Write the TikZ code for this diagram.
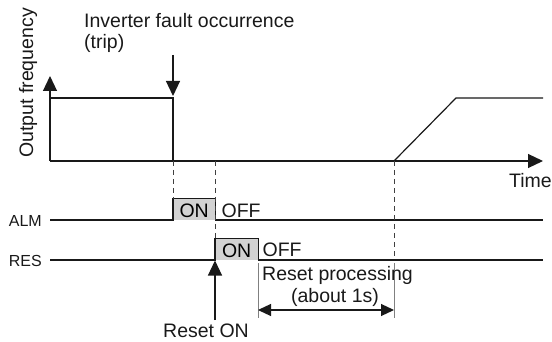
\documentclass[tikz,border=0pt]{standalone}
\usepackage{fontspec}
\setmainfont{Liberation Sans}
\usetikzlibrary{arrows.meta, positioning}

\begin{document}
\begin{tikzpicture}[
    x=1pt, y=-1pt,
    txt/.style={font=\fontsize{19.5}{22}\selectfont, inner sep=0pt, text=black!90},
    sig/.style={font=\fontsize{16}{18}\selectfont, inner sep=0pt, text=black!90},
    wave/.style={line width=1.2pt, black!90},
    guide/.style={black!75, line width=0.7pt, dash pattern=on 5pt off 4pt},
    spanline/.style={black!50, line width=0.9pt},
    onbox/.style={
      rectangle, fill=gray!35, inner sep=0pt, minimum height=21pt,
      text height=17pt, text depth=0pt, anchor=south west,
      font=\fontsize{19.5}{22}\selectfont
    },
    arr/.style={-{Triangle[width=14pt,length=15pt]}, line width=1.2pt, black!90},
    darr/.style={{Triangle[width=12pt,length=13pt]}-{Triangle[width=12pt,length=13pt]},
      line width=1.2pt, black!90}
  ]

  \useasboundingbox (0,0) rectangle (552,342);

  % Axes
  \coordinate (o)    at (50,161);
  \coordinate (ytop) at (50,76);
  \coordinate (xend) at (543,161);
  \draw[arr] (o) -- (ytop);
  \draw[arr] (o) -- (xend);
  \node[txt, rotate=90, anchor=base west] (ylab) at (33,158) {Output frequency};
  \node[txt, anchor=base east] (time) at (552,188) {Time};

  % Output frequency: run, trip, restart
  \coordinate (f0)      at (50,98);
  \coordinate (trip)    at (173,98);
  \coordinate (tripbot) at (173,161);
  \coordinate (restart) at (394,161);
  \coordinate (ftop)    at (456,98);
  \coordinate (fend)    at (543,98);
  \draw[wave] (f0) -- (trip) -- (tripbot);
  \draw[wave] (restart) -- (ftop) -- (fend);

  % Fault label and arrow
  \node[txt, anchor=base west] (fault) at (84,28) {Inverter fault occurrence};
  \node[txt, anchor=base west] (tripl) at (84,49) {(trip)};
  \coordinate (tripin) at (173,55);
  \draw[arr, shorten >=2pt] (tripin) -- (trip);

  % ALM signal
  \node[sig, anchor=east] (alm) at (42,220.5) {ALM};
  \coordinate (alm0) at (50,220);
  \coordinate (alm1) at (543,220);
  \node[onbox, minimum width=42pt] (almon) at (173,220) {ON};
  \draw[wave] (alm0) -- (almon.south west) -- (almon.north west)
    -- (almon.north east) -- (almon.south east) -- (alm1);
  \node[txt, right=6pt of almon.east, yshift=-1.5pt] (almoff) {OFF};

  % RES signal
  \node[sig, anchor=east] (res) at (42,260.5) {RES};
  \coordinate (res0) at (50,260);
  \coordinate (res1) at (543,260);
  \node[onbox, minimum width=43pt] (reson) at (215,260) {ON};
  \draw[wave] (res0) -- (reson.south west) -- (reson.north west)
    -- (reson.north east) -- (reson.south east) -- (res1);
  \node[txt, right=4pt of reson.east, yshift=-0.5pt] (resoff) {OFF};

  % Dashed timing guides
  \coordinate (resetbot) at (215,161);
  \coordinate (procend)  at (394,260);
  \draw[guide] (tripbot) -- (almon.north west);
  \draw[guide] (resetbot) -- (reson.north west);
  \draw[guide] (restart) -- (procend);

  % Reset processing span
  \coordinate (pl0) at (258,263);
  \coordinate (pl1) at (258,318);
  \coordinate (pr0) at (394,263);
  \coordinate (pr1) at (394,318);
  \coordinate (pla) at (258,310);
  \coordinate (pra) at (394,310);
  \draw[spanline] (pl0) -- (pl1);
  \draw[spanline] (pr0) -- (pr1);
  \draw[darr] (pla) -- (pra);
  \node[txt, anchor=base west] (proc)  at (262,280) {Reset processing};
  \node[txt, anchor=base]      (about) at (335,302) {(about 1s)};

  % Reset ON arrow
  \coordinate (rsetin) at (215,320);
  \draw[arr, shorten >=0.5pt] (rsetin) -- (reson.south west);
  \node[txt, anchor=base] (rson) at (206,337) {Reset ON};

\end{tikzpicture}
\end{document}
